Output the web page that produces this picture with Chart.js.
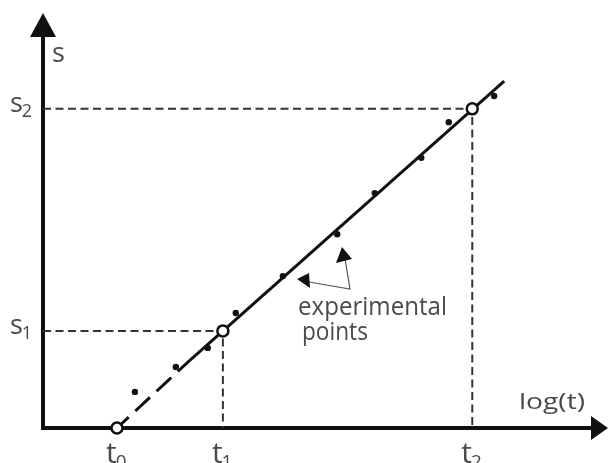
<!DOCTYPE html>
<html>
<head>
<meta charset="utf-8">
<script src="https://cdn.jsdelivr.net/npm/chart.js@4.4.1/dist/chart.umd.min.js"></script>
<style>
  html, body { margin: 0; padding: 0; background: #ffffff; }
  #wrap { width: 609px; height: 463px; }
</style>
</head>
<body>
<div id="wrap"><canvas id="c" width="609" height="463"></canvas></div>
<script>
// ---- data (arbitrary linear units) ----
const xRange = [0, 101];          // log(t) axis extent
const yRange = [0, 100];          // s axis extent
const keyT = [13.2, 32.1, 76.6];  // t0, t1, t2
const keyS = [0, 23.4, 76.9];     // s at t0, s1, s2
const tLabels = ['t0', 't1', 't2'];
const sLabels = ['', 's1', 's2'];
const expX = [16.4, 23.7, 29.4, 34.4, 42.8, 52.5, 59.2, 67.5, 72.4, 80.5];
const expY = [8.7, 14.7, 19.3, 27.7, 36.6, 46.7, 56.6, 65.1, 73.7, 80.0];
const dashBreak = [26.2, 16.3];   // where the extrapolated (dashed) part ends
const fitEnd = [82.3, 83.6];      // upper end of the fitted line
const xTitle = 'log(t)';
const yTitle = 's';
const noteLines = ['experimental', 'points'];

// ---- datasets built from the arrays ----
const pts = (xs, ys) => xs.map((v, i) => ({ x: v, y: ys[i] }));
const guide = (i) => [{ x: xRange[0], y: keyS[i] }, { x: keyT[i], y: keyS[i] }, { x: keyT[i], y: yRange[0] }];

const datasets = [
  { // open circles at t0, (t1,s1), (t2,s2)
    type: 'scatter', data: pts(keyT, keyS), pointRadius: 5.5, pointBackgroundColor: '#ffffff',
    pointBorderColor: '#111111', pointBorderWidth: 2.5, clip: false, showLine: false
  },
  { // experimental points
    type: 'scatter', data: pts(expX, expY), pointRadius: 3.2, pointBackgroundColor: '#111111',
    pointBorderWidth: 0, clip: false, showLine: false
  },
  { // fitted line (solid)
    type: 'line', data: [{ x: dashBreak[0], y: dashBreak[1] }, { x: fitEnd[0], y: fitEnd[1] }],
    borderColor: '#111111', borderWidth: 3, pointRadius: 0, fill: false, clip: false
  },
  { // extrapolation (dashed)
    type: 'line', data: [{ x: keyT[0], y: keyS[0] }, { x: dashBreak[0], y: dashBreak[1] }],
    borderColor: '#111111', borderWidth: 3, borderDash: [20, 9], borderDashOffset: 4, pointRadius: 0, fill: false, clip: false
  },
  { // guide s1 / t1
    type: 'line', data: guide(1), borderColor: '#333333', borderWidth: 2, borderDash: [8, 4.5],
    pointRadius: 0, fill: false, clip: false
  },
  { // guide s2 / t2
    type: 'line', data: guide(2), borderColor: '#333333', borderWidth: 2, borderDash: [8, 4.5],
    pointRadius: 0, fill: false, clip: false
  }
];

const FONT = "'Open Sans', 'DejaVu Sans', sans-serif";
const TEXT = '#4a4a4a';

function drawFit(ctx, text, x, baseline, size, width) {
  ctx.save();
  ctx.font = size + 'px ' + FONT;
  const w = ctx.measureText(text).width;
  ctx.translate(x, baseline);
  if (width) ctx.scale(width / w, 1);
  ctx.fillText(text, 0, 0);
  ctx.restore();
}
function drawSub(ctx, label, x, baseline, size, subSize, dy) {
  const main = label.charAt(0), sub = label.slice(1);
  ctx.font = size + 'px ' + FONT;
  ctx.fillText(main, x, baseline);
  const w = ctx.measureText(main).width;
  ctx.font = subSize + 'px ' + FONT;
  ctx.fillText(sub, x + w - 1, baseline + dy);
}
function tri(ctx, a, b, c) {
  ctx.beginPath(); ctx.moveTo(a[0], a[1]); ctx.lineTo(b[0], b[1]); ctx.lineTo(c[0], c[1]); ctx.closePath(); ctx.fill();
}

const axesPlugin = {
  id: 'axesArrows',
  beforeDatasetsDraw(chart) {
    const { ctx, scales: { x, y } } = chart;
    const x0 = x.getPixelForValue(xRange[0]), x1 = x.getPixelForValue(xRange[1]);
    const y0 = y.getPixelForValue(yRange[0]), y1 = y.getPixelForValue(yRange[1]);
    ctx.save();
    ctx.strokeStyle = '#111111'; ctx.fillStyle = '#111111'; ctx.lineWidth = 4;
    ctx.beginPath(); ctx.moveTo(x0 - 2, y0); ctx.lineTo(x1 - 12, y0); ctx.stroke();
    ctx.beginPath(); ctx.moveTo(x0, y0 + 2); ctx.lineTo(x0, y1 + 14); ctx.stroke();
    tri(ctx, [x1 - 1, y0], [x1 - 18, y0 - 12], [x1 - 18, y0 + 12]);
    tri(ctx, [x0, y1], [x0 - 13, y1 + 24], [x0 + 13, y1 + 24]);
    ctx.restore();
  },
  afterDraw(chart) {
    const { ctx, scales: { x, y } } = chart;
    ctx.save();
    ctx.fillStyle = TEXT;
    ctx.textBaseline = 'alphabetic';
    // t labels
    tLabels.forEach((lab, i) => {
      drawSub(ctx, lab, x.getPixelForValue(keyT[i]) - 11, 463, 30, 19, 5);
    });
    // s labels
    sLabels.forEach((lab, i) => {
      if (!lab) return;
      drawSub(ctx, lab, 10, y.getPixelForValue(keyS[i]) + 3, 27, 18, 5);
    });
    // axis titles
    drawFit(ctx, yTitle, 52, 62, 27);
    drawFit(ctx, xTitle, 519, 409, 21, 66);
    // note
    drawFit(ctx, noteLines[0], 298, 315, 26, 149);
    drawFit(ctx, noteLines[1], 302, 340, 26, 66);
    // note arrows
    ctx.strokeStyle = '#555555'; ctx.lineWidth = 1.2; ctx.fillStyle = '#111111';
    ctx.beginPath(); ctx.moveTo(345, 259); ctx.lineTo(350, 289); ctx.lineTo(309, 282); ctx.stroke();
    tri(ctx, [342, 247], [336, 263], [352, 259]);
    tri(ctx, [297, 279], [309, 273], [310, 288]);
    ctx.restore();
  }
};

new Chart(document.getElementById('c'), {
  type: 'scatter',
  data: { datasets },
  options: {
    responsive: false,
    animation: false,
    layout: { autoPadding: false, padding: { left: 43, right: 0, top: 13, bottom: 35 } },
    plugins: { legend: { display: false }, tooltip: { enabled: false } },
    scales: {
      x: { type: 'linear', min: xRange[0], max: xRange[1], display: false },
      y: { type: 'linear', min: yRange[0], max: yRange[1], display: false }
    },
    elements: { line: { tension: 0 } }
  },
  plugins: [axesPlugin]
});
</script>
</body>
</html>
